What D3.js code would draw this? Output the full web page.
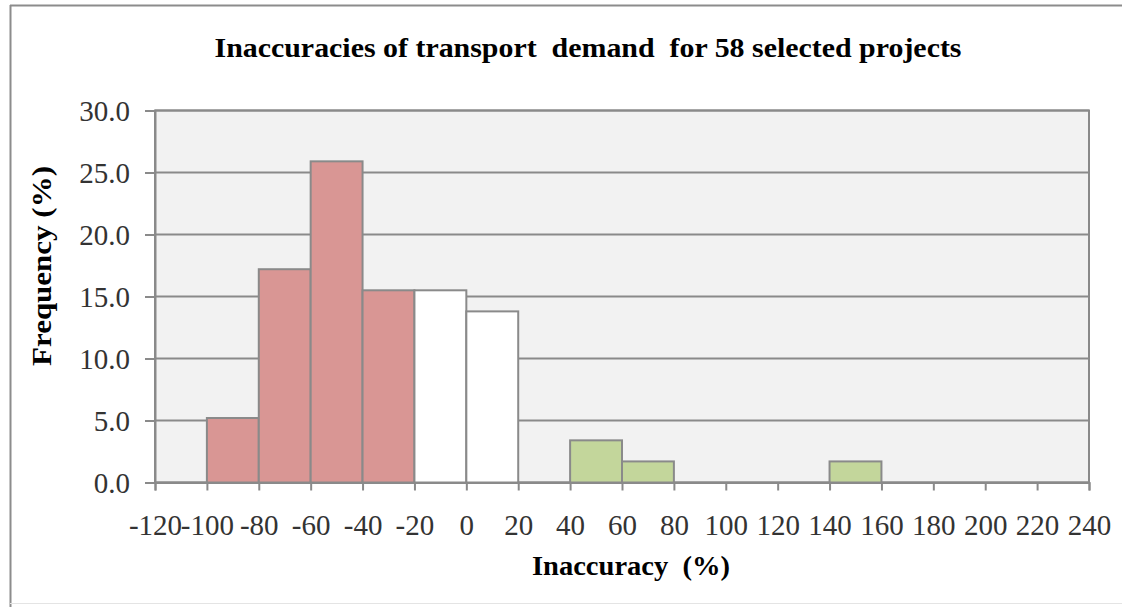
<!DOCTYPE html>
<html>
<head>
<meta charset="utf-8">
<script src="https://cdn.jsdelivr.net/npm/d3@7"></script>
<style>
  body { margin: 0; background: #fff; }
  text { font-family: "Liberation Serif", "Times New Roman", serif; }
</style>
</head>
<body>
<div class="graph"></div>
<script>
// data (percent of 58 projects per 20% inaccuracy bin)
const binStart = [-100, -80, -60, -40, -20, 0, 40, 60, 140];
const freq = [5.2, 17.2, 25.9, 15.5, 15.5, 13.8, 3.4, 1.7, 1.7];
const group = ["under", "under", "under", "under", "ok", "ok", "over", "over", "over"];
const xTicks = d3.range(-120, 241, 20);
const yTicks = [0, 5, 10, 15, 20, 25, 30];

const SIZE = {X: 1122, Y: 607};
const PLOT = {LEFT: 155, RIGHT: 1089, TOP: 110.5, BOTTOM: 482.5};
const COLORS = {under: "#d99694", ok: "#ffffff", over: "#c3d69b"};
const GRID = "#8a8a8a";
const FONT = "'Liberation Serif', 'Times New Roman', serif";

const svg = d3.select(".graph").append("svg")
    .attr("width", SIZE.X)
    .attr("height", SIZE.Y);

// outer chart border (only left/top visible, bottom faint)
svg.append("line").attr("x1", 10.5).attr("x2", 10.5).attr("y1", 5).attr("y2", 607)
    .attr("stroke", "#8c8c8c").attr("stroke-width", 2);
svg.append("line").attr("x1", 10).attr("x2", 1122).attr("y1", 5.5).attr("y2", 5.5)
    .attr("stroke", "#8c8c8c").attr("stroke-width", 2);
svg.append("line").attr("x1", 10).attr("x2", 1122).attr("y1", 603.5).attr("y2", 603.5)
    .attr("stroke", "#e4e4e4").attr("stroke-width", 1);

//scales
const x = d3.scaleLinear().domain([-120, 240]).range([PLOT.LEFT, PLOT.RIGHT]);
const y = d3.scaleLinear().domain([0, 30]).range([PLOT.BOTTOM, PLOT.TOP]);

//plot area
svg.append("rect")
    .attr("x", PLOT.LEFT).attr("y", PLOT.TOP)
    .attr("width", PLOT.RIGHT - PLOT.LEFT).attr("height", PLOT.BOTTOM - PLOT.TOP)
    .attr("fill", "#f2f2f2")
    .attr("stroke", GRID).attr("stroke-width", 2);

//gridlines
svg.append("g").selectAll("line")
    .data(yTicks)
    .enter().append("line")
        .attr("x1", PLOT.LEFT).attr("x2", PLOT.RIGHT)
        .attr("y1", d => y(d)).attr("y2", d => y(d))
        .attr("stroke", GRID).attr("stroke-width", 2);

//bars
svg.append("g").selectAll("rect")
    .data(binStart)
    .enter().append("rect")
        .attr("x", d => x(d))
        .attr("y", (d, i) => y(freq[i]))
        .attr("width", d => x(d + 20) - x(d))
        .attr("height", (d, i) => y(0) - y(freq[i]))
        .attr("fill", (d, i) => COLORS[group[i]])
        .attr("stroke", GRID)
        .attr("stroke-width", 2);

//axes
const xAxis = svg.append("g")
    .attr("transform", `translate(0, ${PLOT.BOTTOM})`)
    .call(d3.axisBottom(x).tickValues(xTicks).tickSize(8).tickPadding(24).tickFormat(d => String(d)));

const yAxis = svg.append("g")
    .attr("transform", `translate(${PLOT.LEFT}, 0)`)
    .call(d3.axisLeft(y).tickValues(yTicks).tickSize(10).tickPadding(15).tickFormat(d3.format(".1f")));

[xAxis, yAxis].forEach(a => {
    a.select(".domain").attr("stroke", GRID).attr("stroke-width", 2);
    a.selectAll(".tick line").attr("stroke", GRID).attr("stroke-width", 2);
    a.selectAll(".tick text")
        .attr("fill", "#333")
        .style("font-size", "29px")
        .style("font-family", FONT);
});
yAxis.selectAll(".tick text").attr("dy", "0.34em");
xAxis.selectAll(".tick text").attr("dy", "0").attr("y", 52);

//titles
svg.append("text")
    .attr("x", 588).attr("y", 57)
    .attr("text-anchor", "middle")
    .attr("textLength", 747)
    .attr("lengthAdjust", "spacingAndGlyphs")
    .style("font-size", "27px").style("font-weight", "bold")
    .style("white-space", "pre")
    .text("Inaccuracies of transport  demand  for 58 selected projects");

svg.append("text")
    .attr("x", 631).attr("y", 575)
    .attr("text-anchor", "middle")
    .attr("textLength", 198)
    .attr("lengthAdjust", "spacingAndGlyphs")
    .style("font-size", "27px").style("font-weight", "bold")
    .style("white-space", "pre")
    .text("Inaccuracy  (%)");

svg.append("text")
    .attr("transform", "translate(51, 266) rotate(-90)")
    .attr("text-anchor", "middle")
    .attr("textLength", 200)
    .attr("lengthAdjust", "spacingAndGlyphs")
    .style("font-size", "28px").style("font-weight", "bold")
    .text("Frequency (%)");
</script>
</body>
</html>
